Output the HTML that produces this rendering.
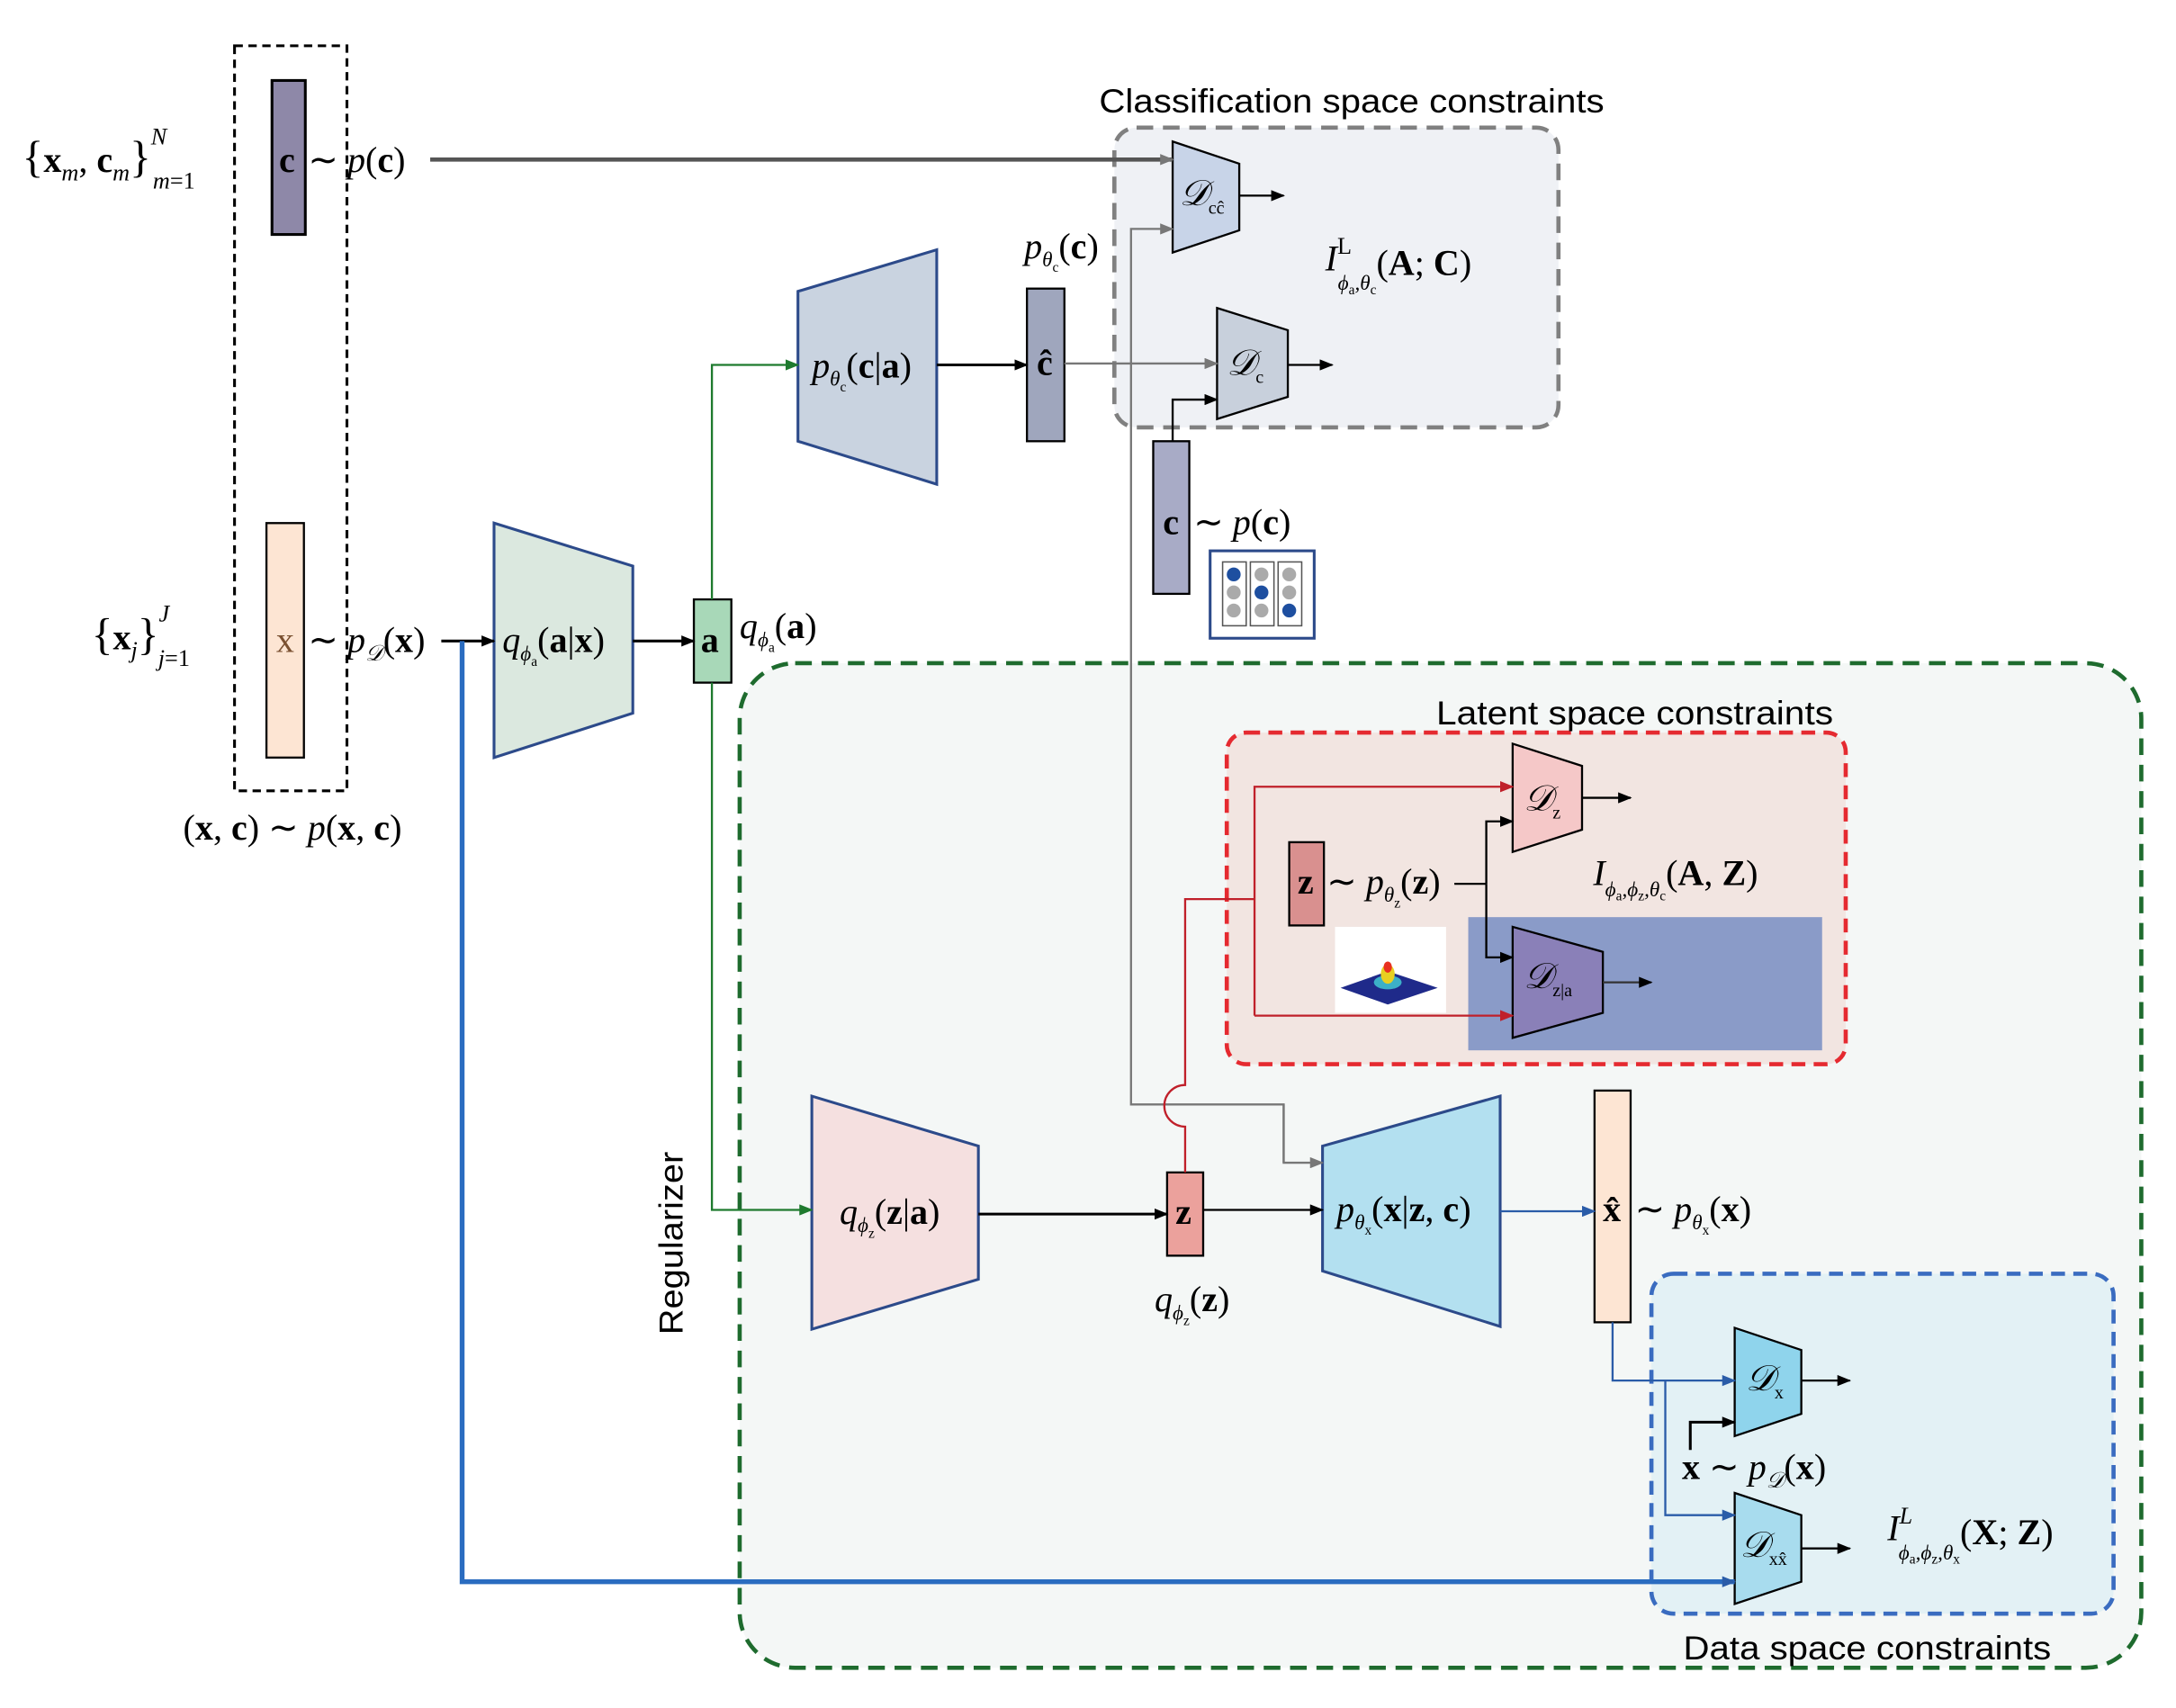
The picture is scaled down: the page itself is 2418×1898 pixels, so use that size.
<!DOCTYPE html>
<html><head><meta charset="utf-8"><style>
html,body{margin:0;padding:0;background:#fff}
svg{display:block}
.m{font-family:"Liberation Serif",serif;font-size:26px}
.s{font-family:"Liberation Sans",sans-serif;font-size:24px}
</style></head><body>
<svg width="2418" height="1898" viewBox="0 0 1568 1231" preserveAspectRatio="none" xmlns="http://www.w3.org/2000/svg">
<defs>
<marker id="ak" markerWidth="10" markerHeight="8" refX="9" refY="4" orient="auto" markerUnits="userSpaceOnUse"><path d="M0,0L10,4L0,8z" fill="#000"/></marker>
<marker id="ag" markerWidth="10" markerHeight="8" refX="9" refY="4" orient="auto" markerUnits="userSpaceOnUse"><path d="M0,0L10,4L0,8z" fill="#777"/></marker>
<marker id="agr" markerWidth="10" markerHeight="8" refX="9" refY="4" orient="auto" markerUnits="userSpaceOnUse"><path d="M0,0L10,4L0,8z" fill="#1e7a2e"/></marker>
<marker id="ar" markerWidth="10" markerHeight="8" refX="9" refY="4" orient="auto" markerUnits="userSpaceOnUse"><path d="M0,0L10,4L0,8z" fill="#c0202a"/></marker>
<marker id="ab" markerWidth="10" markerHeight="8" refX="9" refY="4" orient="auto" markerUnits="userSpaceOnUse"><path d="M0,0L10,4L0,8z" fill="#2a5ca8"/></marker>
</defs>

<rect x="533" y="478" width="1010" height="724" rx="40" fill="#f4f7f6" stroke="#1e6b2e" stroke-width="3" stroke-dasharray="12,7"/>
<rect x="803" y="92" width="320" height="216" rx="16" fill="#eff1f5" stroke="#808080" stroke-width="3" stroke-dasharray="12,7"/>
<rect x="884" y="528" width="446" height="239" rx="14" fill="#f2e5e1" stroke="#e52a30" stroke-width="3" stroke-dasharray="10,6"/>
<rect x="1190" y="918" width="333" height="245" rx="16" fill="#e3f1f5" stroke="#3a6cc0" stroke-width="3" stroke-dasharray="10,6"/>
<rect x="169" y="33" width="81" height="537" fill="none" stroke="#000" stroke-width="2" stroke-dasharray="6,4"/>

<text class="s" x="792" y="81" textLength="364" lengthAdjust="spacingAndGlyphs">Classification space constraints</text>
<text class="s" x="1035" y="522" textLength="286" lengthAdjust="spacingAndGlyphs">Latent space constraints</text>
<text class="s" x="1213" y="1196" textLength="265" lengthAdjust="spacingAndGlyphs">Data space constraints</text>
<text class="s" x="0" y="0" transform="translate(492,962) rotate(-90)" textLength="132" lengthAdjust="spacingAndGlyphs">Regularizer</text>

<rect x="196" y="58" width="24" height="111" fill="#8e88a8" stroke="#000" stroke-width="2"/>
<rect x="192" y="377" width="27" height="169" fill="#fde5d3" stroke="#000" stroke-width="1.5"/>
<rect x="500" y="432" width="27" height="60" fill="#a8d8b8" stroke="#000" stroke-width="1.5"/>
<rect x="740" y="208" width="27" height="110" fill="#9fa6bd" stroke="#000" stroke-width="1.5"/>
<rect x="831" y="318" width="26" height="110" fill="#a8abc6" stroke="#000" stroke-width="1.5"/>
<rect x="929" y="607" width="25" height="60" fill="#d9908f" stroke="#000" stroke-width="1.5"/>
<rect x="841" y="845" width="26" height="60" fill="#eba19c" stroke="#000" stroke-width="1.5"/>
<rect x="1149" y="786" width="26" height="167" fill="#fde5d3" stroke="#000" stroke-width="1.5"/>

<polygon points="356,377 456,408 456,514 356,546" fill="#dbe8df" stroke="#2c4a8a" stroke-width="2"/>
<polygon points="575,210 675,180 675,349 575,318" fill="#c9d3e0" stroke="#2c4a8a" stroke-width="2"/>
<polygon points="585,790 705,826 705,922 585,958" fill="#f5e0e0" stroke="#2c4a8a" stroke-width="2"/>
<polygon points="953,826 1081,790 1081,956 953,916" fill="#b3e0f0" stroke="#2c4a8a" stroke-width="2"/>
<polygon points="845,102 893,118 893,166 845,182" fill="#c8d4e8" stroke="#000" stroke-width="1.5"/>
<polygon points="877,222 928,238 928,286 877,302" fill="#c8d0dc" stroke="#000" stroke-width="1.5"/>
<polygon points="1090,536 1140,552 1140,598 1090,614" fill="#f5c8c8" stroke="#000" stroke-width="1.5"/>
<rect x="1058" y="661" width="255" height="96" fill="#8a9bc8"/>
<polygon points="1090,668 1155,686 1155,730 1090,748" fill="#8a80b8" stroke="#000" stroke-width="1.5"/>
<polygon points="1250,957 1298,973 1298,1019 1250,1035" fill="#8fd4ec" stroke="#000" stroke-width="1.5"/>
<polygon points="1250,1076 1298,1092 1298,1140 1250,1156" fill="#a8dcee" stroke="#000" stroke-width="1.5"/>

<rect x="872" y="397" width="75" height="63" fill="#fff" stroke="#2c4a8a" stroke-width="2"/>
<rect x="881" y="405" width="17" height="46" fill="none" stroke="#555"/><rect x="901" y="405" width="17" height="46" fill="none" stroke="#555"/><rect x="921" y="405" width="17" height="46" fill="none" stroke="#555"/>
<circle cx="889" cy="414" r="5" fill="#1e4fa0"/><circle cx="889" cy="427" r="5" fill="#aaa"/><circle cx="889" cy="440" r="5" fill="#aaa"/>
<circle cx="909" cy="414" r="5" fill="#aaa"/><circle cx="909" cy="427" r="5" fill="#1e4fa0"/><circle cx="909" cy="440" r="5" fill="#aaa"/>
<circle cx="929" cy="414" r="5" fill="#aaa"/><circle cx="929" cy="427" r="5" fill="#aaa"/><circle cx="929" cy="440" r="5" fill="#1e4fa0"/>
<rect x="962" y="668" width="80" height="62" fill="#fff"/>
<polygon points="966,712 1000,700 1036,712 1000,724" fill="#1f2a8a"/>
<ellipse cx="1000" cy="708" rx="10" ry="5" fill="#3cb0c8"/><ellipse cx="1000" cy="702" rx="5" ry="7" fill="#e8d020"/><ellipse cx="1000" cy="697" rx="3" ry="4" fill="#e83020"/>

<line x1="310" y1="115" x2="845" y2="115" stroke="#555" stroke-width="3" marker-end="url(#ag)"/>
<line x1="893" y1="141" x2="925" y2="141" stroke="#000" stroke-width="1.5" marker-end="url(#ak)"/>
<polyline points="925,838 925,796 815,796 815,165 845,165" fill="none" stroke="#777" stroke-width="1.5" marker-end="url(#ag)"/>
<polyline points="925,796 925,838 953,838" fill="none" stroke="#777" stroke-width="1.5" marker-end="url(#ag)"/>
<line x1="675" y1="263" x2="740" y2="263" stroke="#000" stroke-width="2" marker-end="url(#ak)"/>
<line x1="767" y1="262" x2="877" y2="262" stroke="#777" stroke-width="1.5" marker-end="url(#ag)"/>
<line x1="928" y1="263" x2="960" y2="263" stroke="#000" stroke-width="1.5" marker-end="url(#ak)"/>
<polyline points="845,318 845,288 877,288" fill="none" stroke="#000" stroke-width="1.5" marker-end="url(#ak)"/>
<line x1="318" y1="462" x2="356" y2="462" stroke="#000" stroke-width="2" marker-end="url(#ak)"/>
<line x1="456" y1="462" x2="500" y2="462" stroke="#000" stroke-width="2" marker-end="url(#ak)"/>
<polyline points="513,432 513,263 575,263" fill="none" stroke="#1e7a2e" stroke-width="1.5" marker-end="url(#agr)"/>
<polyline points="513,492 513,872 585,872" fill="none" stroke="#1e7a2e" stroke-width="1.5" marker-end="url(#agr)"/>
<line x1="705" y1="875" x2="841" y2="875" stroke="#000" stroke-width="2" marker-end="url(#ak)"/>
<line x1="867" y1="872" x2="953" y2="872" stroke="#000" stroke-width="1.5" marker-end="url(#ak)"/>
<line x1="1081" y1="873" x2="1149" y2="873" stroke="#2a5ca8" stroke-width="1.5" marker-end="url(#ab)"/>
<polyline points="333,462 333,1140 1250,1140" fill="none" stroke="#2a6cc0" stroke-width="3.5" marker-end="url(#ab)"/>
<polyline points="1162,953 1162,995 1250,995" fill="none" stroke="#2a5ca8" stroke-width="1.5" marker-end="url(#ab)"/>
<polyline points="1200,995 1200,1092 1250,1092" fill="none" stroke="#2a5ca8" stroke-width="1.5" marker-end="url(#ab)"/>
<polyline points="1218,1045 1218,1025 1250,1025" fill="none" stroke="#000" stroke-width="2" marker-end="url(#ak)"/>
<line x1="1298" y1="995" x2="1333" y2="995" stroke="#000" stroke-width="1.5" marker-end="url(#ak)"/>
<line x1="1298" y1="1116" x2="1333" y2="1116" stroke="#000" stroke-width="1.5" marker-end="url(#ak)"/>
<line x1="1140" y1="575" x2="1175" y2="575" stroke="#000" stroke-width="1.5" marker-end="url(#ak)"/>
<line x1="1155" y1="708" x2="1190" y2="708" stroke="#333" stroke-width="1.5" marker-end="url(#ak)"/>
<polyline points="1048,637 1071,637" fill="none" stroke="#000" stroke-width="1.5"/>
<polyline points="1071,637 1071,592 1090,592" fill="none" stroke="#000" stroke-width="1.5" marker-end="url(#ak)"/>
<polyline points="1071,637 1071,690 1090,690" fill="none" stroke="#000" stroke-width="1.5" marker-end="url(#ak)"/>
<polyline points="904,732 904,567 1090,567" fill="none" stroke="#c0202a" stroke-width="1.5" marker-end="url(#ar)"/>
<line x1="904" y1="732" x2="1090" y2="732" stroke="#c0202a" stroke-width="1.5" marker-end="url(#ar)"/>
<path d="M854,845 L854,812 A15,15 0 0 1 854,782 L854,648 L904,648" fill="none" stroke="#c0202a" stroke-width="1.5"/>

<text class="m" x="16" y="124"><tspan font-size="32">{</tspan><tspan font-weight="bold">x</tspan><tspan font-style="italic" font-size="17" dy="6">m</tspan><tspan dy="-6">, </tspan><tspan font-weight="bold">c</tspan><tspan font-style="italic" font-size="17" dy="6">m</tspan><tspan dy="-6" font-size="32">}</tspan><tspan font-style="italic" font-size="17" dy="-20">N</tspan><tspan font-size="17" dx="-10" dy="32"><tspan font-style="italic">m</tspan>=1</tspan></text>
<text class="m" x="201" y="124" font-weight="bold">c</text>
<text class="m" x="222" y="124">∼ <tspan font-style="italic">p</tspan>(<tspan font-weight="bold">c</tspan>)</text>
<text class="m" x="66" y="468"><tspan font-size="32">{</tspan><tspan font-weight="bold">x</tspan><tspan font-style="italic" font-size="17" dy="6">j</tspan><tspan dy="-6" font-size="32">}</tspan><tspan font-style="italic" font-size="17" dy="-20">J</tspan><tspan font-size="17" dx="-8" dy="32"><tspan font-style="italic">j</tspan>=1</tspan></text>
<text class="m" x="199" y="470" fill="#7a5030">x</text>
<text class="m" x="222" y="470">∼ <tspan font-style="italic">p</tspan><tspan font-style="italic" font-size="16" dy="6">𝒟</tspan><tspan dy="-6">(<tspan font-weight="bold">x</tspan>)</tspan></text>
<text class="m" x="132" y="605">(<tspan font-weight="bold">x</tspan>, <tspan font-weight="bold">c</tspan>) ∼ <tspan font-style="italic">p</tspan>(<tspan font-weight="bold">x</tspan>, <tspan font-weight="bold">c</tspan>)</text>
<text class="m" x="362" y="470"><tspan font-style="italic">q</tspan><tspan font-style="italic" font-size="15" dy="6">ϕ</tspan><tspan font-size="10" dy="4">a</tspan><tspan dy="-10">(<tspan font-weight="bold">a</tspan>|<tspan font-weight="bold">x</tspan>)</tspan></text>
<text class="m" x="505" y="470" font-weight="bold">a</text>
<text class="m" x="533" y="460"><tspan font-style="italic">q</tspan><tspan font-style="italic" font-size="15" dy="6">ϕ</tspan><tspan font-size="10" dy="4">a</tspan><tspan dy="-10">(<tspan font-weight="bold">a</tspan>)</tspan></text>
<text class="m" x="585" y="272"><tspan font-style="italic">p</tspan><tspan font-style="italic" font-size="15" dy="6">θ</tspan><tspan font-size="10" dy="4">c</tspan><tspan dy="-10">(<tspan font-weight="bold">c</tspan>|<tspan font-weight="bold">a</tspan>)</tspan></text>
<text class="m" x="738" y="186"><tspan font-style="italic">p</tspan><tspan font-style="italic" font-size="15" dy="6">θ</tspan><tspan font-size="10" dy="4">c</tspan><tspan dy="-10">(<tspan font-weight="bold">c</tspan>)</tspan></text>
<text class="m" x="747" y="270" font-weight="bold">ĉ</text>
<text class="m" x="838" y="385" font-weight="bold">c</text>
<text class="m" x="860" y="385">∼ <tspan font-style="italic">p</tspan>(<tspan font-weight="bold">c</tspan>)</text>
<text class="m" x="850" y="148" font-style="italic">𝒟<tspan font-style="normal" font-size="13" dy="6">cĉ</tspan></text>
<text class="m" x="884" y="270" font-style="italic">𝒟<tspan font-style="normal" font-size="13" dy="6">c</tspan></text>
<text class="m" x="955" y="195" font-size="30"><tspan font-style="italic">I</tspan><tspan font-size="17" dy="-12">L</tspan><tspan font-size="15" font-style="italic" dx="-10" dy="26">ϕ</tspan><tspan font-size="10" dy="3">a</tspan><tspan font-size="15" font-style="italic" dy="-3">,θ</tspan><tspan font-size="10" dy="3">c</tspan><tspan dy="-14">(<tspan font-weight="bold">A</tspan>; <tspan font-weight="bold">C</tspan>)</tspan></text>
<text class="m" x="1098" y="584" font-style="italic">𝒟<tspan font-style="normal" font-size="13" dy="6">z</tspan></text>
<text class="m" x="1098" y="712" font-style="italic">𝒟<tspan font-style="normal" font-size="13" dy="6">z|a</tspan></text>
<text class="m" x="935" y="644" font-weight="bold">z</text>
<text class="m" x="956" y="644">∼ <tspan font-style="italic">p</tspan><tspan font-style="italic" font-size="15" dy="6">θ</tspan><tspan font-size="10" dy="4">z</tspan><tspan dy="-10">(<tspan font-weight="bold">z</tspan>)</tspan></text>
<text class="m" x="1148" y="638" font-size="28"><tspan font-style="italic">I</tspan><tspan font-size="15" font-style="italic" dy="8">ϕ</tspan><tspan font-size="10" dy="3">a</tspan><tspan font-size="15" font-style="italic" dy="-3">,ϕ</tspan><tspan font-size="10" dy="3">z</tspan><tspan font-size="15" font-style="italic" dy="-3">,θ</tspan><tspan font-size="10" dy="3">c</tspan><tspan dy="-11">(<tspan font-weight="bold">A</tspan>, <tspan font-weight="bold">Z</tspan>)</tspan></text>
<text class="m" x="605" y="882"><tspan font-style="italic">q</tspan><tspan font-style="italic" font-size="15" dy="6">ϕ</tspan><tspan font-size="10" dy="4">z</tspan><tspan dy="-10">(<tspan font-weight="bold">z</tspan>|<tspan font-weight="bold">a</tspan>)</tspan></text>
<text class="m" x="847" y="882" font-weight="bold">z</text>
<text class="m" x="832" y="945"><tspan font-style="italic">q</tspan><tspan font-style="italic" font-size="15" dy="6">ϕ</tspan><tspan font-size="10" dy="4">z</tspan><tspan dy="-10">(<tspan font-weight="bold">z</tspan>)</tspan></text>
<text class="m" x="963" y="880"><tspan font-style="italic">p</tspan><tspan font-style="italic" font-size="15" dy="6">θ</tspan><tspan font-size="10" dy="4">x</tspan><tspan dy="-10">(<tspan font-weight="bold">x</tspan>|<tspan font-weight="bold">z</tspan>, <tspan font-weight="bold">c</tspan>)</tspan></text>
<text class="m" x="1155" y="880" font-weight="bold">x̂</text>
<text class="m" x="1178" y="880">∼ <tspan font-style="italic">p</tspan><tspan font-style="italic" font-size="15" dy="6">θ</tspan><tspan font-size="10" dy="4">x</tspan><tspan dy="-10">(<tspan font-weight="bold">x</tspan>)</tspan></text>
<text class="m" x="1258" y="1002" font-style="italic">𝒟<tspan font-style="normal" font-size="13" dy="6">x</tspan></text>
<text class="m" x="1254" y="1122" font-style="italic">𝒟<tspan font-style="normal" font-size="13" dy="6">xx̂</tspan></text>
<text class="m" x="1212" y="1066"><tspan font-weight="bold">x</tspan> ∼ <tspan font-style="italic">p</tspan><tspan font-style="italic" font-size="16" dy="6">𝒟</tspan><tspan dy="-6">(<tspan font-weight="bold">x</tspan>)</tspan></text>
<text class="m" x="1360" y="1110" font-size="30"><tspan font-style="italic">I</tspan><tspan font-size="17" font-style="italic" dy="-12">L</tspan><tspan font-size="15" font-style="italic" dx="-10" dy="26">ϕ</tspan><tspan font-size="10" dy="3">a</tspan><tspan font-size="15" font-style="italic" dy="-3">,ϕ</tspan><tspan font-size="10" dy="3">z</tspan><tspan font-size="15" font-style="italic" dy="-3">,θ</tspan><tspan font-size="10" dy="3">x</tspan><tspan dy="-14">(<tspan font-weight="bold">X</tspan>; <tspan font-weight="bold">Z</tspan>)</tspan></text>
</svg>
</body></html>
